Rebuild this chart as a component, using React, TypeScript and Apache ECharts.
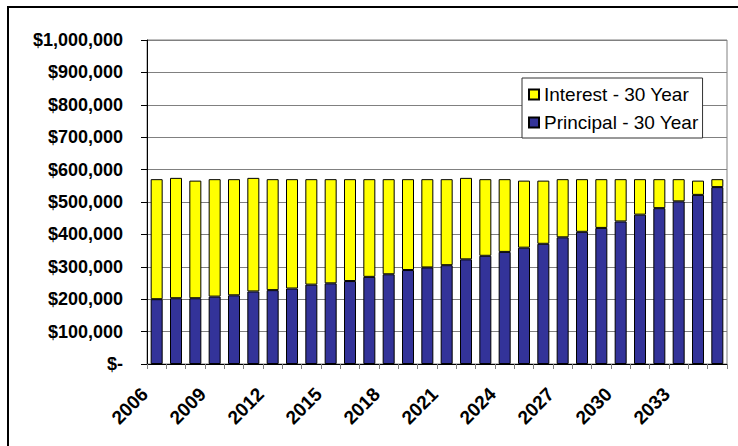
import React, { useEffect, useRef } from "react";
import * as echarts from "echarts";

const years = [
  "2006", "2007", "2008", "2009", "2010", "2011", "2012", "2013", "2014", "2015",
  "2016", "2017", "2018", "2019", "2020", "2021", "2022", "2023", "2024", "2025",
  "2026", "2027", "2028", "2029", "2030", "2031", "2032", "2033", "2034", "2035",
];

const principal = [
  200000, 203000, 203000, 208000, 212000, 224000, 228000, 233000, 245000, 249000,
  256000, 269000, 277000, 290000, 298000, 305000, 323000, 334000, 346000, 359000,
  371000, 391000, 408000, 420000, 440000, 461000, 481000, 502000, 522000, 546000,
];

const interest = [
  370500, 371500, 363000, 362500, 358500, 350500, 342500, 337500, 325500, 321500,
  314500, 301500, 293500, 280500, 272500, 265500, 251500, 236500, 224500, 207000,
  195000, 179500, 162500, 150500, 130500, 109500, 89500, 68500, 44000, 24500,
];

const seriesNames = ["Principal - 30 Year", "Interest - 30 Year"];
const legendOrder = ["Interest - 30 Year", "Principal - 30 Year"];

const FONT = 'Arial, "Liberation Sans", sans-serif';

function fmtMoney(v: number): string {
  if (v === 0) return "$-";
  return "$" + v.toLocaleString("en-US");
}

export default function App() {
  const ref = useRef<HTMLDivElement>(null);
  useEffect(() => {
    if (!ref.current) return;
    const chart = echarts.init(ref.current, undefined, { renderer: "svg" });
    chart.setOption({
      animation: false,
      backgroundColor: "#ffffff",
      grid: {
        left: 147,
        right: 11,
        top: 40,
        bottom: 82,
        show: true,
        borderColor: "#808080",
        borderWidth: 1,
        backgroundColor: "transparent",
      },
      legend: {
        data: legendOrder,
        orient: "vertical",
        left: 522,
        top: 78,
        backgroundColor: "#ffffff",
        borderColor: "#333333",
        borderWidth: 1,
        padding: [7, 4, 6, 6],
        itemWidth: 10,
        itemHeight: 10,
        itemGap: 9,
        icon: "rect",
        textStyle: { fontFamily: FONT, fontSize: 19, color: "#000" },
      },
      xAxis: {
        type: "category",
        data: years,
        boundaryGap: true,
        axisLine: { lineStyle: { color: "#000", width: 1 } },
        axisTick: { show: true, interval: 0, length: 5, lineStyle: { color: "#808080" } },
        axisLabel: {
          interval: 2,
          rotate: 45,
          margin: 15,
          padding: [0, 17, 0, 0],
          fontFamily: FONT,
          fontSize: 19,
          fontWeight: "bold",
          color: "#000",
        },
      },
      yAxis: {
        type: "value",
        min: 0,
        max: 1000000,
        interval: 100000,
        axisLine: { show: true, lineStyle: { color: "#000", width: 1 } },
        axisTick: { show: true, length: 6, lineStyle: { color: "#000" } },
        splitLine: { show: true, lineStyle: { color: "#808080", width: 1 } },
        axisLabel: {
          formatter: fmtMoney,
          margin: 24,
          fontFamily: FONT,
          fontSize: 18,
          fontWeight: "bold",
          color: "#000",
        },
      },
      series: [
        {
          name: seriesNames[0],
          type: "bar",
          stack: "total",
          data: principal,
          barWidth: 12,
          itemStyle: { color: "#333399", borderColor: "#000", borderWidth: 1 },
        },
        {
          name: seriesNames[1],
          type: "bar",
          stack: "total",
          data: interest,
          barWidth: 12,
          itemStyle: { color: "#ffff00", borderColor: "#000", borderWidth: 1 },
        },
      ],
      graphic: [
        {
          type: "rect",
          shape: { x: 8, y: 7, width: 760, height: 480 },
          style: { fill: "none", stroke: "#000", lineWidth: 2 },
          silent: true,
        },
      ],
    });
    return () => chart.dispose();
  }, []);
  return (
    <div
      ref={ref}
      style={{ position: "fixed", left: 0, top: 0, width: 738, height: 446 }}
    />
  );
}
